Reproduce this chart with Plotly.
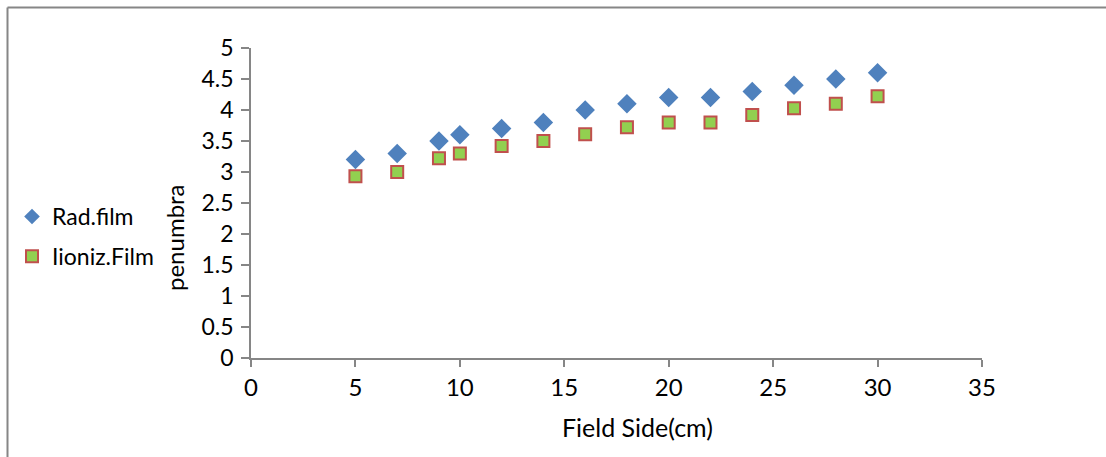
import plotly.graph_objects as go

# Field side (cm) and measured penumbra for each method
field_side = [5, 7, 9, 10, 12, 14, 16, 18, 20, 22, 24, 26, 28, 30]
rad_film = [3.2, 3.3, 3.5, 3.6, 3.7, 3.8, 4.0, 4.1, 4.2, 4.2, 4.3, 4.4, 4.5, 4.6]
ioniz_film = [2.93, 3.0, 3.22, 3.3, 3.42, 3.5, 3.61, 3.72, 3.8, 3.8, 3.92, 4.03, 4.1, 4.22]

x_ticks = [0, 5, 10, 15, 20, 25, 30, 35]
y_ticks = [0, 0.5, 1, 1.5, 2, 2.5, 3, 3.5, 4, 4.5, 5]

W, H = 1106, 457
L, R, T, B = 251, 124, 48, 99
PW, PH = W - L - R, H - T - B


def px(xp):
    return (xp - L) / PW


def py(yp):
    return (H - B - yp) / PH


axis_grey = "#868686"
body_font = "Lato, 'Open Sans', sans-serif"

fig = go.Figure()
fig.add_trace(go.Scatter(
    x=field_side, y=rad_film, mode="markers", name="Rad.film",
    legendgroup="a",
    marker=dict(symbol="diamond", size=15, color="#4F81BD",
                line=dict(width=0)),
))
fig.add_trace(go.Scatter(
    x=field_side, y=ioniz_film, mode="markers", name="Iioniz.Film",
    legendgroup="b",
    marker=dict(symbol="square", size=12, color="#92D050",
                line=dict(width=2, color="#C0504D")),
))

fig.update_layout(
    width=W, height=H,
    margin=dict(l=L, r=R, t=T, b=B),
    paper_bgcolor="white", plot_bgcolor="white",
    font=dict(family=body_font, size=22, color="#000000"),
    showlegend=True,
    legend=dict(
        x=px(12), y=py(195), xanchor="left", yanchor="top",
        font=dict(family=body_font, size=23, color="#000000"),
        traceorder="grouped", tracegroupgap=7,
        itemsizing="constant", bgcolor="rgba(0,0,0,0)",
    ),
    xaxis=dict(
        range=[0, 35], tickvals=x_ticks, ticktext=[str(v) for v in x_ticks],
        showgrid=False, zeroline=False, showline=True,
        linecolor=axis_grey, linewidth=1.5,
        ticks="outside", ticklen=7, tickcolor=axis_grey, tickwidth=1.5,
        tickfont=dict(family=body_font, size=24, color="#000000"),
        fixedrange=True,
    ),
    yaxis=dict(
        range=[0, 5], tickvals=y_ticks, ticktext=[f"{v:g}" for v in y_ticks],
        showgrid=False, zeroline=False, showline=True,
        linecolor=axis_grey, linewidth=1.5,
        ticks="outside", ticklen=8, tickcolor=axis_grey, tickwidth=1.5,
        ticklabelstandoff=3,
        tickfont=dict(family=body_font, size=23, color="#000000"),
        fixedrange=True,
    ),
    annotations=[
        dict(text="Field Side(cm)", x=px(637), y=py(427), xref="paper", yref="paper",
             showarrow=False, xanchor="center", yanchor="middle",
             font=dict(family=body_font, size=25, color="#000000")),
        dict(text="penumbra", x=px(174), y=py(238), xref="paper", yref="paper",
             showarrow=False, textangle=-90, xanchor="center", yanchor="middle",
             font=dict(family=body_font, size=24, color="#000000")),
    ],
    shapes=[
        dict(type="line", xref="paper", yref="paper",
             x0=px(7.5), x1=px(1110), y0=py(7.5), y1=py(7.5),
             line=dict(color=axis_grey, width=2)),
        dict(type="line", xref="paper", yref="paper",
             x0=px(7.5), x1=px(7.5), y0=py(7.5), y1=py(470),
             line=dict(color=axis_grey, width=2)),
    ],
)

fig.write_html("out.html")
